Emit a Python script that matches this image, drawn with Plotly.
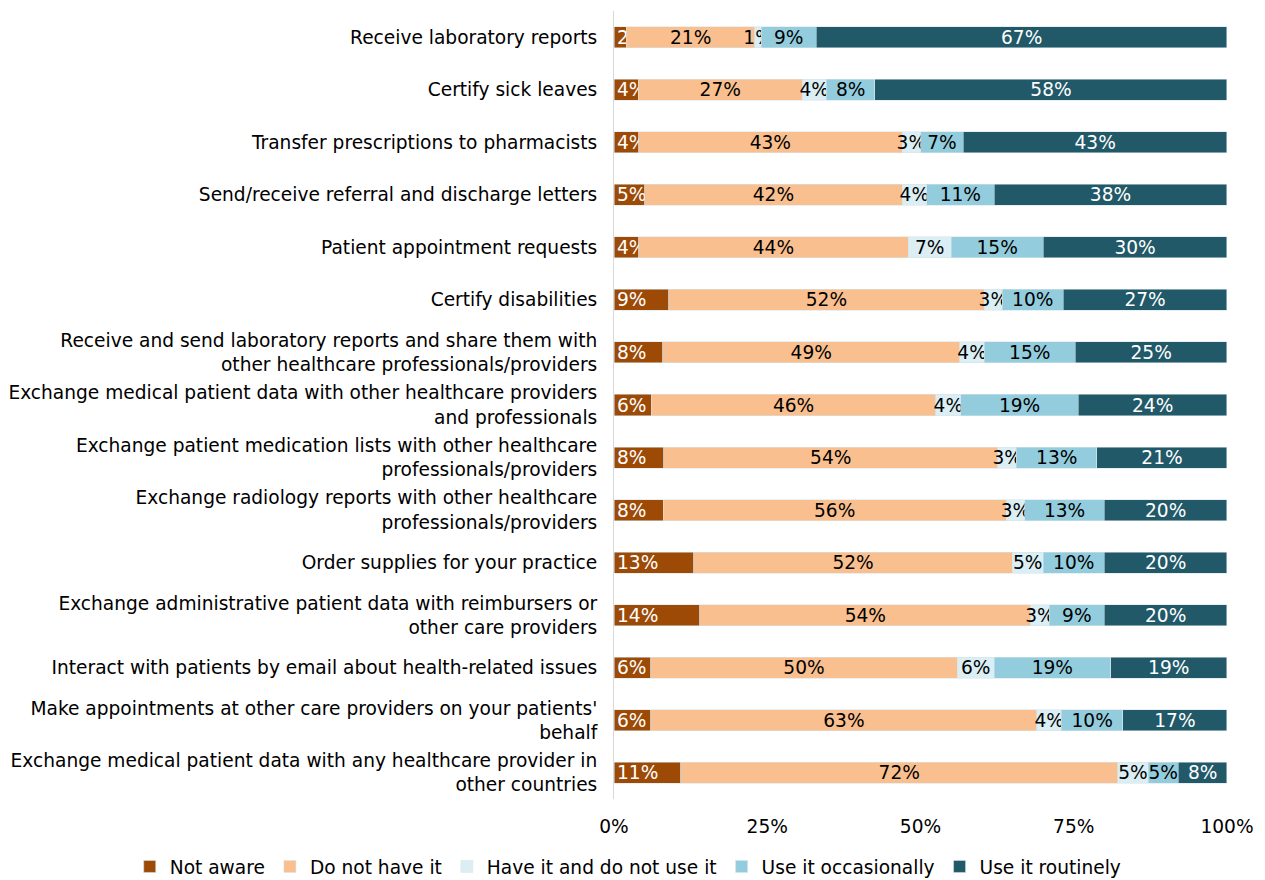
import plotly.graph_objects as go

categories = [
    "Receive laboratory reports",
    "Certify sick leaves",
    "Transfer prescriptions to pharmacists",
    "Send/receive referral and discharge letters",
    "Patient appointment requests",
    "Certify disabilities",
    "Receive and send laboratory reports and share them with<br>other healthcare professionals/providers",
    "Exchange medical patient data with other healthcare providers<br>and professionals",
    "Exchange patient medication lists with other healthcare<br>professionals/providers",
    "Exchange radiology reports with other healthcare<br>professionals/providers",
    "Order supplies for your practice",
    "Exchange administrative patient data with reimbursers or<br>other care providers",
    "Interact with patients by email about health-related issues",
    "Make appointments at other care providers on your patients'<br>behalf",
    "Exchange medical patient data with any healthcare provider in<br>other countries",
]

not_aware = [2, 4, 4, 5, 4, 9, 8, 6, 8, 8, 13, 14, 6, 6, 11]
do_not_have = [21, 27, 43, 42, 44, 52, 49, 46, 54, 56, 52, 54, 50, 63, 72]
have_not_use = [1, 4, 3, 4, 7, 3, 4, 4, 3, 3, 5, 3, 6, 4, 5]
occasionally = [9, 8, 7, 11, 15, 10, 15, 19, 13, 13, 10, 9, 19, 10, 5]
routinely = [67, 58, 43, 38, 30, 27, 25, 24, 21, 20, 20, 20, 19, 17, 8]

x_ticks = [0, 25, 50, 75, 100]
x_tick_labels = ["0%", "25%", "50%", "75%", "100%"]

# name, values, fill colour, label colour, label anchor inside segment
series = [
    ("Not aware", not_aware, "#9C4A06", "white", "start"),
    ("Do not have it", do_not_have, "#F9BF8F", "black", "middle"),
    ("Have it and do not use it", have_not_use, "#DAEEF3", "black", "middle"),
    ("Use it occasionally", occasionally, "#93CDDD", "black", "middle"),
    ("Use it routinely", routinely, "#215968", "white", "middle"),
]

FONT = "DejaVu Sans"
FS = 18.6

fig = go.Figure()
for name, vals, color, txtcolor, anchor in series:
    fig.add_trace(go.Bar(
        name=name,
        y=categories,
        x=vals,
        orientation="h",
        marker=dict(color=color, line=dict(color="rgba(215,228,235,0.9)", width=0.6)),
        text=[f"{v}%" for v in vals],
        texttemplate="%{text}",
        textposition="inside",
        insidetextanchor=anchor,
        constraintext="none",
        textangle=0,
        textfont=dict(family=FONT, size=FS, color=txtcolor),
        hoverinfo="skip",
    ))

fig.update_layout(
    barmode="stack",
    barnorm="percent",
    bargap=0.6,
    width=1265,
    height=880,
    margin=dict(l=614, r=38, t=11, b=81, autoexpand=False),
    paper_bgcolor="white",
    plot_bgcolor="white",
    font=dict(family=FONT, size=FS, color="black"),
    showlegend=True,
    legend=dict(
        orientation="h",
        x=-0.79, xref="paper", xanchor="left",
        y=-0.062, yref="paper", yanchor="top",
        font=dict(family=FONT, size=FS, color="black"),
        itemwidth=30,
        traceorder="normal",
    ),
    xaxis=dict(
        range=[0, 100.001],
        tickmode="array",
        tickvals=x_ticks,
        ticktext=x_tick_labels,
        showgrid=False,
        zeroline=False,
        showline=False,
        ticks="",
        ticklabelstandoff=14,
        tickfont=dict(family=FONT, size=FS, color="black"),
        fixedrange=True,
    ),
    yaxis=dict(
        autorange="reversed",
        showgrid=False,
        showline=True,
        linecolor="#D9D9D9",
        linewidth=1,
        ticks="",
        ticklabelstandoff=12,
        tickfont=dict(family=FONT, size=FS, color="black"),
        fixedrange=True,
    ),
)

fig.write_html("out.html")
